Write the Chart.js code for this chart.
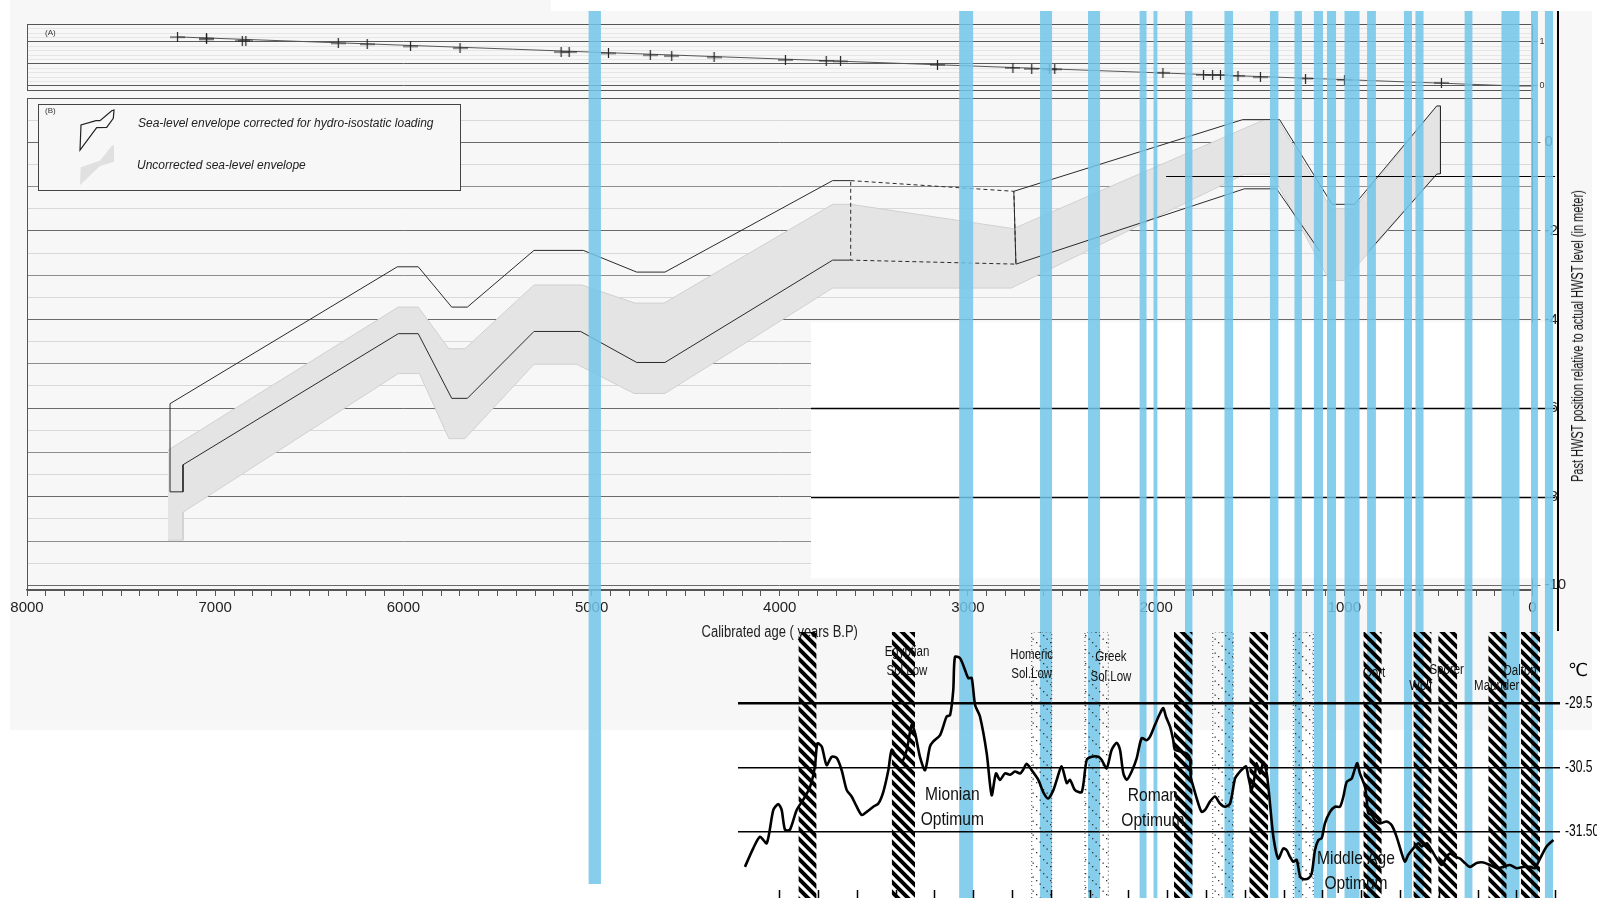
<!DOCTYPE html>
<html lang="en">
<head>
<meta charset="utf-8">
<title>Sea-level envelopes and temperature record</title>
<script src="https://cdn.jsdelivr.net/npm/chart.js@4.4.1/dist/chart.umd.min.js"></script>
<style>
  html, body { margin: 0; padding: 0; background: #ffffff; }
  #stage { position: relative; width: 1597px; height: 898px; overflow: hidden; background: #ffffff; }
  .sheet { position: absolute; background: #f7f7f7; }
  canvas { position: absolute; left: 0; }
  #rule { position: absolute; left: 1557px; top: 11px; width: 2px; height: 620px; background: #000; }
  #ytitle { position: absolute; white-space: nowrap; color: #111; line-height: 1; }
</style>
</head>
<body>
<div id="stage">
  <div class="sheet" style="left:10px;top:0;width:541px;height:730px"></div>
  <div class="sheet" style="left:551px;top:11px;width:1041px;height:719px"></div>
  <canvas id="panelA" width="1597" height="100" style="top:0"></canvas>
  <canvas id="panelB" width="1597" height="650" style="top:0"></canvas>
  <canvas id="bands" width="1597" height="887" style="top:11px"></canvas>
  <canvas id="temp" width="1597" height="298" style="top:600px"></canvas>
  <div id="rule"></div>
  <div id="ytitle">Past HWST position relative to actual HWST level (in meter)</div>
</div>
<script>
// ---------------------------------------------------------------------------
// Data
// ---------------------------------------------------------------------------

// (A) dated sea-level indicators (cal. yr BP, m) and their trend line
const indicatorYears  = [7200, 7046, 7046, 6856, 6837, 6346, 6192, 5962, 5699, 5162, 5119, 4910, 4688, 4574, 4349, 3970,
                         3753, 3677, 3162, 2761, 2661, 2566, 2539, 1964, 1748, 1700, 1658, 1565, 1446, 1206, 999, 484];
const indicatorLevels = [1.11, 1.08, 1.06, 1.03, 1.03, 0.97, 0.95, 0.90, 0.86, 0.77, 0.77, 0.74, 0.70, 0.68, 0.65, 0.59,
                         0.57, 0.56, 0.48, 0.41, 0.39, 0.38, 0.38, 0.30, 0.25, 0.25, 0.25, 0.23, 0.20, 0.17, 0.14, 0.07];
const trendYears  = [7200, 80, 0];
const trendLevels = [1.115, 0, 0];

// (B) sea-level envelope corrected for hydro-isostatic loading: [yr BP, m]
const correctedOlder = [[3623, -2.66], [3719, -2.66], [4610, -4.97], [4760, -4.97], [5058, -4.27], [5306, -4.27],
                        [5660, -5.78], [5743, -5.78], [5921, -4.32], [6027, -4.32], [7171, -7.28], [7171, -7.89],
                        [7240, -7.89], [7240, -5.90], [6032, -2.81], [5921, -2.81], [5743, -3.72], [5660, -3.72],
                        [5306, -2.44], [5044, -2.44], [4760, -2.93], [4610, -2.93], [3719, -0.865], [3623, -0.865]];
const correctedGap   = [[3623, -0.865], [2756, -1.106], [2745, -2.75], [3623, -2.66], [3623, -0.865]];
const correctedYounger = [[1132, -2.45], [1360, -1.05], [1531, -1.05], [2745, -2.75], [2756, -1.106], [1540, 0.512],
                          [1344, 0.512], [1065, -1.40], [945, -1.40], [509, 0.82], [489, 0.82], [489, -0.707],
                          [509, -0.72], [868, -2.45]];

// (B) uncorrected sea-level envelope (closed outline): [yr BP, m]
const uncorrected = [[7251, -6.95], [6027, -3.72], [5921, -3.72], [5758, -4.66], [5673, -4.66], [5306, -3.22],
                     [5052, -3.22], [4769, -3.63], [4615, -3.63], [3719, -1.40], [3623, -1.40], [2759, -1.95],
                     [1423, 0.512], [1354, 0.512], [1069, -1.50], [951, -1.50], [509, 0.82], [489, 0.82],
                     [489, -0.707], [509, -0.72], [1000, -3.12], [1079, -3.12], [1383, -0.72], [1531, -0.72],
                     [2770, -3.29], [3719, -3.29], [4610, -5.67], [4774, -5.67], [5079, -5.01], [5306, -5.01],
                     [5673, -6.69], [5758, -6.69], [5915, -5.22], [6027, -5.22], [7171, -8.35], [7171, -8.98],
                     [7251, -8.98]];

// Age axis
const ageLabels = [8000, 7000, 6000, 5000, 4000, 3000, 2000, 1000, 0];
const levelLabelsA = [1, 0];
const levelLabelsB = [0, -2, -4, -6, -8, -10];

// Highlighted periods (yr BP)
const bandStart = [5017, 3047, 2617, 2362, 2089, 2015, 1847, 1638, 1396, 1266, 1163, 1092, 1000, 879, 684, 623, 362, 166, 8, -65];
const bandEnd   = [4950, 2971, 2552, 2297, 2050, 1992, 1806, 1590, 1349, 1225, 1113, 1043, 918, 832, 640, 578, 318, 68, -29, -109];

// Temperature record (yr BP, °C)
const tempYears = [4185, 4141, 4105, 4069, 4034, 4008, 3990, 3972, 3946, 3910, 3875, 3839, 3813, 3800, 3777, 3751, 3724,
  3697, 3671, 3644, 3618, 3591, 3564, 3538, 3503, 3476, 3450, 3423, 3405, 3379, 3352, 3325, 3299, 3281, 3255, 3228,
  3202, 3184, 3148, 3113, 3095, 3078, 3069, 3042, 3016, 2998, 2980, 2962, 2936, 2900, 2874, 2851, 2830, 2803, 2776,
  2750, 2723, 2706, 2688, 2661, 2626, 2600, 2573, 2546, 2528, 2502, 2475, 2458, 2431, 2395, 2369, 2342, 2307, 2289,
  2263, 2236, 2209, 2192, 2174, 2156, 2130, 2103, 2077, 2050, 2033, 2006, 1979, 1962, 1948, 1926, 1909, 1900, 1864,
  1838, 1820, 1816, 1802, 1776, 1758, 1740, 1714, 1687, 1661, 1634, 1607, 1581, 1563, 1537, 1522, 1510, 1492, 1475,
  1466, 1448, 1430, 1412, 1395, 1377, 1351, 1324, 1306, 1289, 1271, 1253, 1235, 1218, 1191, 1173, 1156, 1138, 1120,
  1103, 1076, 1049, 1023, 1005, 987, 961, 943, 931, 917, 890, 881, 873, 854, 837, 810, 775, 748, 722, 695, 678, 660,
  633, 607, 589, 562, 536, 509, 482, 456, 438, 412, 385, 359, 332, 297, 261, 226, 190, 155, 120, 84, 49, 13, -13, -40,
  -75, -111];
const tempValues = [-32.05, -31.76, -31.58, -31.68, -31.16, -31.07, -31.16, -31.47, -31.47, -31.16, -31.00, -30.80,
  -30.48, -30.12, -30.17, -30.46, -30.33, -30.35, -30.54, -30.85, -30.95, -31.11, -31.24, -31.19, -31.11, -31.06,
  -30.88, -30.54, -30.22, -30.33, -30.41, -30.22, -29.83, -29.96, -30.33, -30.54, -30.17, -30.09, -29.99, -29.70,
  -29.68, -29.29, -28.77, -28.79, -28.97, -29.10, -29.10, -29.52, -29.70, -30.28, -30.93, -30.59, -30.69, -30.59,
  -30.61, -30.56, -30.59, -30.53, -30.44, -30.54, -30.69, -30.88, -30.98, -30.85, -30.69, -30.48, -30.74, -30.69,
  -30.85, -30.88, -30.38, -30.33, -30.33, -30.38, -30.51, -30.22, -30.11, -30.22, -30.59, -30.69, -30.56, -30.35,
  -30.04, -30.07, -30.02, -29.83, -29.65, -29.57, -29.70, -29.86, -30.07, -30.22, -30.25, -30.28, -30.35, -30.64,
  -30.80, -31.06, -31.19, -31.16, -31.03, -30.95, -31.06, -31.11, -31.06, -30.67, -30.59, -30.51, -30.48, -30.64,
  -30.85, -30.61, -30.43, -30.59, -30.41, -30.59, -31.06, -31.58, -31.92, -31.76, -31.79, -31.89, -31.97, -31.94,
  -32.20, -32.24, -32.23, -32.15, -31.79, -31.63, -31.60, -31.37, -31.19, -31.11, -31.11, -30.95, -30.72, -30.67,
  -30.51, -30.43, -30.59, -30.80, -31.00, -31.21, -31.24, -31.32, -31.37, -31.34, -31.40, -31.58, -31.84, -31.97,
  -31.86, -31.76, -31.68, -31.73, -31.68, -31.79, -31.92, -32.02, -31.89, -31.84, -31.89, -31.92, -31.99, -32.05,
  -31.99, -31.98, -32.02, -32.07, -32.05, -32.02, -32.07, -32.05, -32.05, -32.07, -31.92, -31.73, -31.63];
const tempTicks = [-29.5, -30.5, -31.5];
const tempTickLabels = ['-29.5', '-30.5', '-31.50'];
const tempBaseTicks = [4002, 3796, 3589, 3384, 3178, 2971, 2766, 2559, 2353, 2147, 1941, 1735, 1529, 1323, 1117, 911, 704, 498, 292, 87, -120];

// Solar minima (hatched) and lows (dotted), yr BP
const hatchStart = [3901, 3405, 1905, 1505, 899, 633, 501, 235, 61];
const hatchEnd   = [3804, 3281, 1806, 1404, 801, 536, 400, 137, -40];
const dotStart   = [2661, 2378, 1699, 1271];
const dotEnd     = [2555, 2254, 1590, 1165];

// Annotations on the temperature record
const tempNotes = [
  { lines: ['Egyptian', 'Sol.Low'], year: 3324, level: -28.69, big: false },
  { lines: ['Homeric', 'Sol.Low'], year: 2661, level: -28.74, big: false },
  { lines: ['Greek', 'Sol.Low'],   year: 2240, level: -28.78, big: false },
  { lines: ['Mionian', 'Optimum'], year: 3083, level: -30.93, big: true },
  { lines: ['Roman', 'Optimum'],   year: 2017, level: -30.94, big: true },
  { lines: ['Middle Age', 'Optimum'], year: 938, level: -31.93, big: true },
  { lines: ['Oort'],    year: 842, level: -29.02, big: false },
  { lines: ['Wolf'],    year: 594, level: -29.23, big: false },
  { lines: ['Spörer'],  year: 456, level: -28.98, big: false },
  { lines: ['Maunder'], year: 190, level: -29.22, big: false },
  { lines: ['Dalton'],  year: 66,  level: -28.99, big: false }
];

// ---------------------------------------------------------------------------
// Layout
// ---------------------------------------------------------------------------
const PAGE_W = 1597;
const AXIS_LEFT = 27, AXIS_RIGHT = 1532.5;          // pixel span of the 8000 -> 0 yr BP axis
const PX_PER_YEAR = (AXIS_RIGHT - AXIS_LEFT) / 8000;
const ageAt = px => (AXIS_RIGHT - px) / PX_PER_YEAR;
const TEMP_LEFT = 738, TEMP_RIGHT = 1560;
const TEMP_MIN = -32.536, TEMP_MAX = -28.380;
const BAND_FLOOR_SHORT = 0.0158;
const BLUE = 'rgba(113,197,231,0.85)';
const SANS = '"Liberation Sans", Arial, sans-serif';

Chart.defaults.font.family = SANS;
Chart.defaults.color = '#222';
Chart.defaults.animation = false;

const pts = (xs, ys) => xs.map((x, i) => ({ x, y: ys[i] }));
const pairPts = arr => arr.map(p => ({ x: p[0], y: p[1] }));

// condensed text (narrow sans look) drawn on a chart canvas
function narrowText(ctx, text, x, y, size, squeeze, align) {
  ctx.save();
  ctx.translate(x, y);
  ctx.scale(squeeze, 1);
  ctx.font = size + 'px ' + SANS;
  ctx.textAlign = align || 'center';
  ctx.textBaseline = 'middle';
  ctx.fillText(text, 0, 0);
  ctx.restore();
}

// cross glyph for indicators: wider than tall
const crossGlyph = (() => {
  const c = document.createElement('canvas');
  c.width = 15; c.height = 10;
  const g = c.getContext('2d');
  g.strokeStyle = '#222'; g.lineWidth = 1.2;
  g.beginPath(); g.moveTo(0, 5); g.lineTo(15, 5); g.moveTo(7.5, 0); g.lineTo(7.5, 10); g.stroke();
  return c;
})();

function hatchPattern() {
  const c = document.createElement('canvas');
  c.width = 10; c.height = 10;
  const g = c.getContext('2d');
  g.strokeStyle = '#000'; g.lineWidth = 4;
  g.beginPath();
  g.moveTo(-5, -5); g.lineTo(15, 15);
  g.moveTo(-5, 5); g.lineTo(5, 15);
  g.moveTo(5, -5); g.lineTo(15, 5);
  g.stroke();
  return g.createPattern(c, 'repeat');
}
function dotPattern() {
  const c = document.createElement('canvas');
  c.width = 14; c.height = 14;
  const g = c.getContext('2d');
  g.fillStyle = '#333';
  for (let i = 0; i < 14; i += 3.5) g.fillRect(i, i, 1.3, 1.3);
  return g.createPattern(c, 'repeat');
}

// ---------------------------------------------------------------------------
// Plugins
// ---------------------------------------------------------------------------
const framePlugin = {
  id: 'frame',
  beforeDatasetsDraw(chart, args, opts) {
    const { ctx, chartArea: a } = chart;
    ctx.save();
    ctx.strokeStyle = opts.color || '#555';
    ctx.lineWidth = 1;
    ctx.strokeRect(Math.round(a.left) + 0.5, Math.round(a.top) + 0.5, Math.round(a.right - a.left) - 1, Math.round(a.bottom - a.top));
    ctx.restore();
  }
};
const tagPlugin = {
  id: 'tag',
  afterDraw(chart, args, opts) {
    const { ctx, chartArea: a } = chart;
    ctx.save();
    ctx.font = '8px ' + SANS;
    ctx.fillStyle = '#333';
    ctx.textBaseline = 'middle';
    ctx.fillText(opts.text, a.left + opts.dx, a.top + opts.dy);
    ctx.restore();
  }
};
const legendPlugin = {
  id: 'legendBox',
  afterDatasetsDraw(chart) {
    const { ctx, chartArea: a } = chart;
    const L = a.left + 11, T = a.top + 6;
    const poly = (p) => { ctx.beginPath(); p.forEach((q, i) => i ? ctx.lineTo(L + q[0], T + q[1]) : ctx.moveTo(L + q[0], T + q[1])); ctx.closePath(); };
    ctx.save();
    ctx.fillStyle = '#f7f7f7';
    ctx.fillRect(L, T, 422, 86.5);
    ctx.strokeStyle = '#444'; ctx.lineWidth = 1;
    ctx.strokeRect(L + 0.5, T + 0.5, 422, 86);
    poly([[42, 46], [43, 21], [58, 16.7], [62, 16.7], [73.7, 6.7], [76, 6], [75.3, 14.3], [68.7, 23.3], [58.7, 23.7]]);
    ctx.strokeStyle = '#222'; ctx.lineWidth = 1.2; ctx.stroke();
    poly([[42, 81], [42.7, 63.3], [58.7, 57.7], [62, 56.7], [73.7, 42], [76, 41], [76, 57.7], [68.7, 60], [62, 62]]);
    ctx.fillStyle = '#e0e0e0'; ctx.fill();
    ctx.fillStyle = '#222';
    ctx.font = 'italic 12px ' + SANS;
    ctx.textBaseline = 'middle';
    ctx.fillText('Sea-level envelope corrected for hydro-isostatic loading', L + 100, T + 19.5);
    ctx.fillText('Uncorrected sea-level envelope', L + 99, T + 62);
    ctx.restore();
  }
};
// age axis caption, in a narrow face
const captionPlugin = {
  id: 'caption',
  afterDraw(chart, args, opts) {
    const { ctx, chartArea: a } = chart;
    ctx.save();
    ctx.fillStyle = '#222';
    narrowText(ctx, opts.text, (a.left + a.right) / 2, a.bottom + 43, 16, 0.81, 'center');
    ctx.restore();
  }
};
// white inset over the lower right of panel B with its two rules, plus the short reference rule
const insetPlugin = {
  id: 'inset',
  afterDraw(chart) {
    const { ctx, scales: { x, y } } = chart;
    const x0 = x.getPixelForValue(3834), x1 = x.getPixelForValue(-110), x2 = x.getPixelForValue(-120);
    ctx.save();
    ctx.fillStyle = '#ffffff';
    ctx.fillRect(x0, y.getPixelForValue(-4.063), x1 - x0, y.getPixelForValue(-9.842) - y.getPixelForValue(-4.063));
    ctx.strokeStyle = '#000'; ctx.lineWidth = 1.4;
    [-6, -8].forEach(v => {
      const py = Math.round(y.getPixelForValue(v)) + 0.5;
      ctx.beginPath(); ctx.moveTo(x0, py); ctx.lineTo(x2, py); ctx.stroke();
    });
    ctx.lineWidth = 1.2;
    const pr = Math.round(y.getPixelForValue(-0.77)) + 0.5;
    ctx.beginPath(); ctx.moveTo(x.getPixelForValue(1947), pr); ctx.lineTo(x2, pr); ctx.stroke();
    ctx.restore();
  }
};
const tempDecor = {
  id: 'tempDecor',
  afterDatasetsDraw(chart) {
    const { ctx, chartArea: a, scales: { x, y } } = chart;
    ctx.save();
    ctx.fillStyle = '#111';
    tempNotes.forEach(n => {
      const size = n.big ? 19 : 14;
      const gap = n.big ? 25 : 19.5;
      const px = x.getPixelForValue(n.year), py = y.getPixelForValue(n.level);
      n.lines.forEach((t, k) => narrowText(ctx, t, px, py + k * gap, size, 0.82, 'center'));
    });
    ctx.fillStyle = '#000';
    tempTicks.forEach((v, i) => narrowText(ctx, tempTickLabels[i], a.right + 5, y.getPixelForValue(v), 16.5, 0.73, 'left'));
    ctx.strokeStyle = '#000'; ctx.lineWidth = 1.5;
    tempBaseTicks.forEach(yr => {
      const px = Math.round(x.getPixelForValue(yr)) + 0.5;
      ctx.beginPath(); ctx.moveTo(px, a.bottom - 8); ctx.lineTo(px, a.bottom); ctx.stroke();
    });
    ctx.font = '18px "DejaVu Sans", sans-serif';
    ctx.textAlign = 'center';
    ctx.textBaseline = 'middle';
    ctx.fillText('\u2103', a.right + 18, y.getPixelForValue(-29.0));
    ctx.restore();
  }
};

const baseOptions = { events: [], responsive: false, maintainAspectRatio: false, animation: false };

// ---------------------------------------------------------------------------
// (A) indicator panel
// ---------------------------------------------------------------------------
const gridA = [0, 0.1, 0.2, 0.3, 0.4, 0.5, 0.6, 0.7, 0.8, 0.9, 1.0, 1.1, 1.2, 1.3, 1.4];
new Chart(document.getElementById('panelA'), {
  type: 'line',
  data: {
    datasets: [
      { data: pts(indicatorYears, indicatorLevels), showLine: false, pointStyle: crossGlyph, pointRadius: 6 },
      { data: pts(trendYears, trendLevels), borderColor: '#555', borderWidth: 1, pointRadius: 0 }
    ]
  },
  options: {
    ...baseOptions,
    layout: { autoPadding: false, padding: { left: AXIS_LEFT, top: 24, right: 0, bottom: 10 } },
    plugins: { legend: { display: false }, tooltip: { enabled: false }, frame: { color: '#555' }, tag: { text: '(A)', dx: 18, dy: 9 } },
    scales: {
      x: { type: 'linear', min: 0, max: 8000, reverse: true, display: false },
      y: {
        type: 'linear', position: 'right', min: -0.091, max: 1.409,
        afterBuildTicks: s => { s.ticks = gridA.map(v => ({ value: v })); },
        afterFit: s => { s.width = PAGE_W - AXIS_RIGHT; },
        grid: {
          color: c => (c.tick && [0, 0.5, 1].includes(c.tick.value)) ? '#5a5a5a' : '#e6e6e6',
          lineWidth: 1, drawTicks: true, tickLength: 5,
          tickColor: c => (c.tick && levelLabelsA.includes(c.tick.value)) ? '#555' : 'rgba(0,0,0,0)'
        },
        border: { display: false },
        ticks: { autoSkip: false, padding: 2, font: { size: 9 }, color: '#333',
                 callback: v => levelLabelsA.includes(v) ? String(v) : '' }
      }
    }
  },
  plugins: [framePlugin, tagPlugin]
});

// ---------------------------------------------------------------------------
// (B) sea-level envelopes
// ---------------------------------------------------------------------------
const gridB = [];
for (let v = -10; v <= 1; v += 0.5) gridB.push(v);
const minorAges = [];
for (let a = 0; a <= 8000; a += 100) minorAges.push(a);

new Chart(document.getElementById('panelB'), {
  type: 'line',
  data: {
    datasets: [
      { data: pairPts(correctedOlder), borderColor: '#2a2a2a', borderWidth: 1, pointRadius: 0 },
      { data: pairPts(correctedYounger), borderColor: '#2a2a2a', borderWidth: 1, pointRadius: 0 },
      { data: pairPts(correctedGap), borderColor: '#2a2a2a', borderWidth: 1, borderDash: [4, 3], pointRadius: 0 },
      { data: pairPts(uncorrected), borderColor: '#d0d0d0', borderWidth: 1, backgroundColor: '#e4e4e4', fill: 'shape', pointRadius: 0 }
    ]
  },
  options: {
    ...baseOptions,
    layout: { autoPadding: false, padding: { left: AXIS_LEFT, top: 98, right: 0, bottom: 0 } },
    plugins: { legend: { display: false }, tooltip: { enabled: false }, frame: { color: '#555' },
               tag: { text: '(B)', dx: 18, dy: 13 }, caption: { text: 'Calibrated age ( years B.P)' } },
    scales: {
      x: {
        type: 'linear', min: 0, max: 8000, reverse: true,
        afterBuildTicks: s => { s.ticks = minorAges.map(v => ({ value: v })); },
        afterFit: s => { s.height = 60; },
        grid: { drawOnChartArea: false, drawTicks: true, tickLength: 6, color: '#555', lineWidth: 1 },
        border: { display: true, color: '#555', width: 1.5 },
        ticks: { autoSkip: false, maxRotation: 0, padding: 3, font: { size: 15 }, color: '#222',
                 callback: v => ageLabels.includes(v) ? String(v) : '' }
      },
      y: {
        type: 'linear', position: 'right', min: -10.106, max: 1,
        afterBuildTicks: s => { s.ticks = gridB.map(v => ({ value: v })); },
        afterFit: s => { s.width = PAGE_W - AXIS_RIGHT; },
        grid: {
          color: c => {
            const v = c.tick ? c.tick.value : 0;
            if (!Number.isInteger(v)) return '#d8d8d8';
            return v % 2 === 0 ? '#6a6a6a' : '#8e8e8e';
          },
          lineWidth: 1, drawTicks: true, tickLength: 8,
          tickColor: c => (c.tick && levelLabelsB.includes(c.tick.value)) ? '#666' : 'rgba(0,0,0,0)'
        },
        border: { display: true, color: '#666', width: 1 },
        ticks: { autoSkip: false, padding: 4, font: { size: 15 }, color: '#222',
                 callback: v => levelLabelsB.includes(v) ? String(v) : '' }
      }
    }
  },
  plugins: [framePlugin, tagPlugin, legendPlugin, captionPlugin, insetPlugin]
});

// ---------------------------------------------------------------------------
// Highlighted periods spanning the whole figure
// ---------------------------------------------------------------------------
new Chart(document.getElementById('bands'), {
  type: 'line',
  data: {
    datasets: bandStart.map((s, i) => ({
      data: [{ x: s, y: 1 }, { x: bandEnd[i], y: 1 }],
      borderWidth: 0, pointRadius: 0, backgroundColor: BLUE,
      fill: { value: i === 0 ? BAND_FLOOR_SHORT : 0 }
    }))
  },
  options: {
    ...baseOptions,
    layout: { autoPadding: false, padding: 0 },
    plugins: { legend: { display: false }, tooltip: { enabled: false } },
    scales: {
      x: { type: 'linear', reverse: true, min: ageAt(PAGE_W), max: ageAt(0), display: false },
      y: { type: 'linear', min: 0, max: 1, display: false }
    }
  }
});

// ---------------------------------------------------------------------------
// Temperature record with solar minima
// ---------------------------------------------------------------------------
const HATCH = hatchPattern();
const DOTS = dotPattern();
const tempDatasets = [
  { data: pts(tempYears, tempValues), borderColor: '#000', borderWidth: 2.6, pointRadius: 0, tension: 0.25, fill: false }
];
hatchStart.forEach((s, i) => tempDatasets.push({
  data: [{ x: s, y: TEMP_MAX }, { x: hatchEnd[i], y: TEMP_MAX }],
  borderWidth: 0, pointRadius: 0, backgroundColor: HATCH, fill: 'start'
}));
dotStart.forEach((s, i) => tempDatasets.push({
  data: [{ x: s, y: TEMP_MIN }, { x: s, y: TEMP_MAX }, { x: dotEnd[i], y: TEMP_MAX }, { x: dotEnd[i], y: TEMP_MIN }],
  borderWidth: 1, borderColor: '#444', borderDash: [1, 3], pointRadius: 0, backgroundColor: DOTS, fill: 'start'
}));

new Chart(document.getElementById('temp'), {
  type: 'line',
  data: { datasets: tempDatasets },
  options: {
    ...baseOptions,
    layout: { autoPadding: false, padding: { left: TEMP_LEFT, top: 32, right: 0, bottom: 0 } },
    plugins: { legend: { display: false }, tooltip: { enabled: false } },
    scales: {
      x: { type: 'linear', reverse: true, min: ageAt(TEMP_RIGHT), max: ageAt(TEMP_LEFT), display: false },
      y: {
        type: 'linear', position: 'right', min: TEMP_MIN, max: TEMP_MAX,
        afterBuildTicks: s => { s.ticks = tempTicks.map(v => ({ value: v })); },
        afterFit: s => { s.width = PAGE_W - TEMP_RIGHT; },
        grid: { color: '#000', lineWidth: c => (c.tick && c.tick.value === -29.5) ? 2.5 : 1.5, drawTicks: false },
        border: { display: false },
        ticks: { display: false }
      }
    }
  },
  plugins: [tempDecor]
});

// ---------------------------------------------------------------------------
// Vertical axis title of panel B
// ---------------------------------------------------------------------------
(() => {
  const el = document.getElementById('ytitle');
  const font = '16px ' + SANS;
  el.style.font = font;
  const m = document.createElement('canvas').getContext('2d');
  m.font = font;
  const w = m.measureText(el.textContent).width;
  el.style.left = '1578px';
  el.style.top = '336px';
  el.style.transform = 'translate(-50%, -50%) rotate(-90deg) scaleX(' + (292 / w).toFixed(3) + ')';
})();
</script>
</body>
</html>
